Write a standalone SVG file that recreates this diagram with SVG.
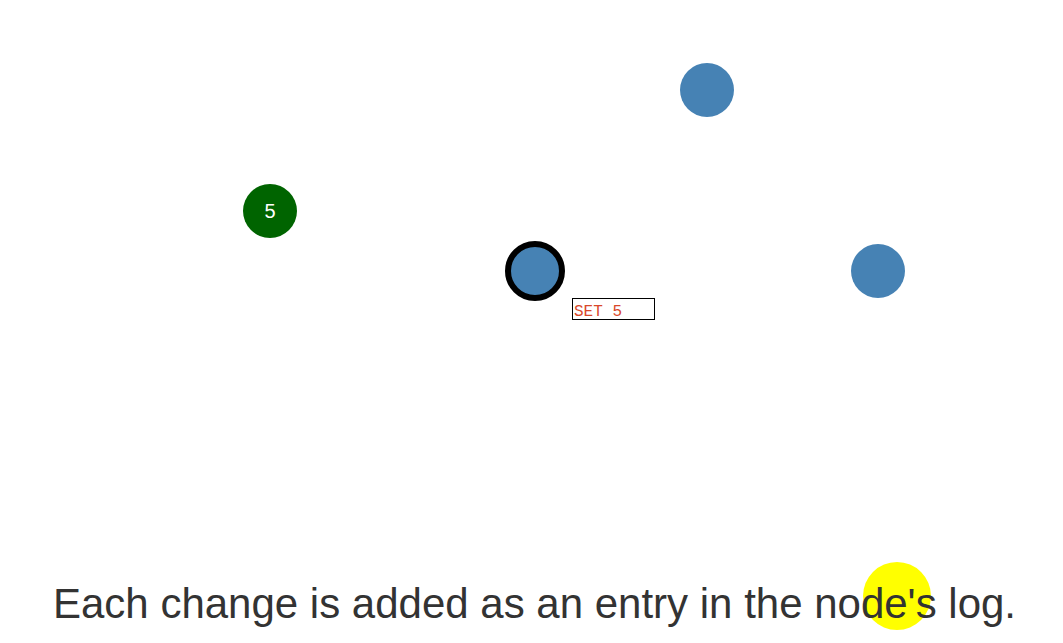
<svg xmlns="http://www.w3.org/2000/svg" width="1063" height="643" viewBox="0 0 1063 643">
<style>
.node{fill:#4682b4}
.lbl{font-family:"Liberation Sans",Arial,sans-serif;font-size:20px;fill:#fff;text-anchor:middle}
.log{font-family:"Liberation Mono","Courier New",monospace;font-size:16px;fill:#d9482b}
.cap{font-family:"Liberation Sans",Arial,sans-serif;font-size:42px;fill:#333}
</style>
<rect width="1063" height="643" fill="#fff"/>
<g id="connectors"/>
<g id="node-a"><circle cx="270" cy="211" r="27" fill="#006400"/><text class="lbl" x="270" y="218">5</text></g>
<g id="node-b"><circle class="node" cx="707" cy="90" r="27"/></g>
<g id="node-c"><circle class="node" cx="535" cy="271" r="27" stroke="#000" stroke-width="6"/></g>
<g id="node-d"><circle class="node" cx="878" cy="271" r="27"/></g>
<g id="log"><rect x="572.5" y="298.5" width="82" height="21" fill="#fff" stroke="#000" stroke-width="1"/><text class="log" x="574" y="316">SET 5</text></g>
<circle cx="897" cy="596" r="34" fill="#ffff00"/>
<text class="cap" x="53" y="618">Each change is added as an entry in the node's log.</text>
</svg>
